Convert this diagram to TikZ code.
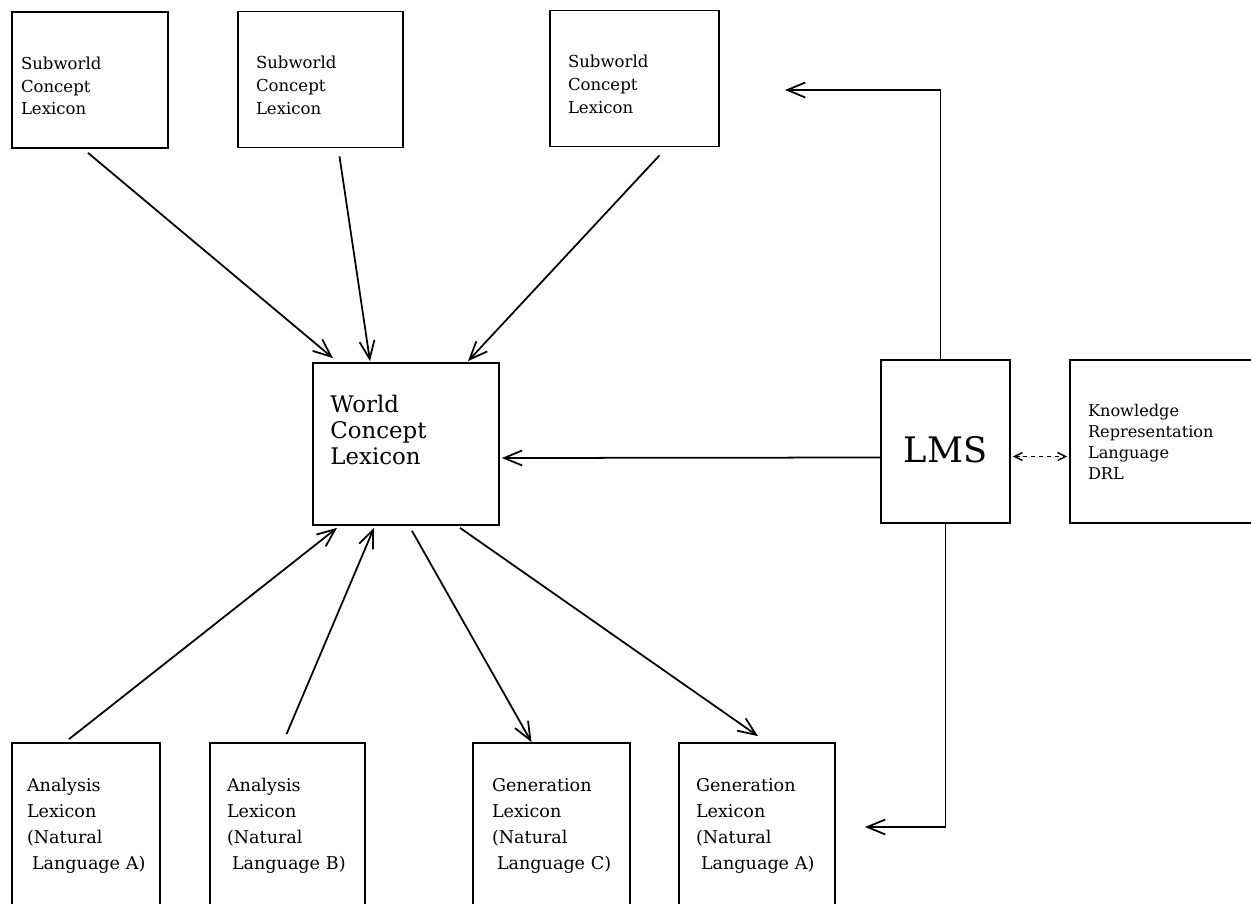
\documentclass[tikz,border=0pt]{standalone}
\usepackage{fontspec}
\setmainfont{DejaVu Serif}
\usetikzlibrary{arrows.meta,calc}

\begin{document}
\begin{tikzpicture}[x=0.02cm, y=-0.02cm]
\tikzstyle{lexbox} = [rectangle, draw=black, line width=1pt, align=left, inner ysep=0pt]
\tikzstyle{subbox} = [lexbox, minimum height=2.72cm, text depth=0.68cm, font=\fontsize{9.4}{13}\selectfont]
\tikzstyle{genbox} = [lexbox, minimum height=3.32cm, font=\fontsize{10}{14.8}\selectfont]
\tikzstyle{bigbox} = [lexbox, minimum height=3.26cm]
\tikzstyle{arrow} = [line width=1pt,->,>={Straight Barb[length=0.36cm,width=0.3cm]}]
\tikzstyle{dasharrow} = [line width=0.8pt,dash pattern=on 2.5pt off 2pt,<->,>={Straight Barb[length=0.16cm,width=0.16cm]}]

\useasboundingbox (0,0) rectangle (1251,903);

\node (sub1) [subbox, minimum width=3.12cm, text width=2.76cm, inner xsep=0.18cm] at (90,80) {Subworld\\Concept\\Lexicon};
\node (sub2) [subbox, minimum width=3.30cm, text width=2.58cm, inner xsep=0.36cm] at (320.5,79.5) {Subworld\\Concept\\Lexicon};
\node (sub3) [subbox, minimum width=3.38cm, text width=2.66cm, inner xsep=0.36cm] at (634.5,78.5) {Subworld\\Concept\\Lexicon};

\node (world) [bigbox, minimum width=3.72cm, minimum height=3.24cm] at (406,444) {};
\node (worldtxt) [align=left, inner sep=0pt, text width=3cm, anchor=base west, font=\fontsize{13}{14.8}\selectfont] at ($(world.north west)+(18,50)$) {World\\Concept\\Lexicon};

\node (lms) [bigbox, minimum width=2.58cm, font=\fontsize{20}{24}\selectfont, text height=0.83cm, text depth=0cm] at (945.5,441.5) {LMS};
\node (krl) [bigbox, minimum width=4cm, text width=3.28cm, inner xsep=0.36cm, font=\fontsize{9.2}{12}\selectfont] at (1170,441.5) {Knowledge\\Representation\\Language\\DRL};

\node (an1) [genbox, minimum width=2.96cm, text width=2.36cm, inner xsep=0.3cm] at (86,826) {Analysis\\Lexicon\\(Natural\\\hspace*{0.1cm}\mbox{Language A)}};
\node (an2) [genbox, minimum width=3.10cm, text width=2.42cm, inner xsep=0.34cm] at (287.5,826) {Analysis\\Lexicon\\(Natural\\\hspace*{0.1cm}\mbox{Language B)}};
\node (gen1) [genbox, minimum width=3.14cm, text width=2.38cm, inner xsep=0.38cm] at (551.5,826) {Generation\\Lexicon\\(Natural\\\hspace*{0.1cm}\mbox{Language C)}};
\node (gen2) [genbox, minimum width=3.12cm, text width=2.44cm, inner xsep=0.34cm] at (757,826) {Generation\\Lexicon\\(Natural\\\hspace*{0.1cm}\mbox{Language A)}};

\coordinate (subend) at (785,90);
\coordinate (genend) at (865,827);

\draw [arrow] ($(sub1.south)+(-2,4)$) -- ($(world.north)+(-73,-4)$);
\draw [arrow] ($(sub2.south)+(19,8)$) -- ($(world.north)+(-36,-1)$);
\draw [arrow] ($(sub3.south)+(25,8)$) -- ($(world.north)+(62,-1)$);
\draw [arrow] ($(an1.north)+(-17,-3)$) -- ($(world.south)+(-69,2)$);
\draw [arrow] ($(an2.north)+(-1,-8)$) -- ($(world.south)+(-32,2)$);
\draw [arrow] ($(world.south)+(6,5)$) -- ($(gen1.north)+(-20,0)$);
\draw [arrow] ($(world.south)+(54,2)$) -- ($(gen2.north)+(1,-6)$);
\draw [arrow] ($(lms.west)+(0,16)$) -- ($(world.east)+(2,14)$);
\draw [dasharrow] ($(lms.east)+(2,15)$) -- ($(krl.west)+(-2,15)$);
\draw [arrow] ($(lms.north)+(-5,0)$) |- (subend);
\draw [arrow] (lms.south) |- (genend);

\end{tikzpicture}
\end{document}
